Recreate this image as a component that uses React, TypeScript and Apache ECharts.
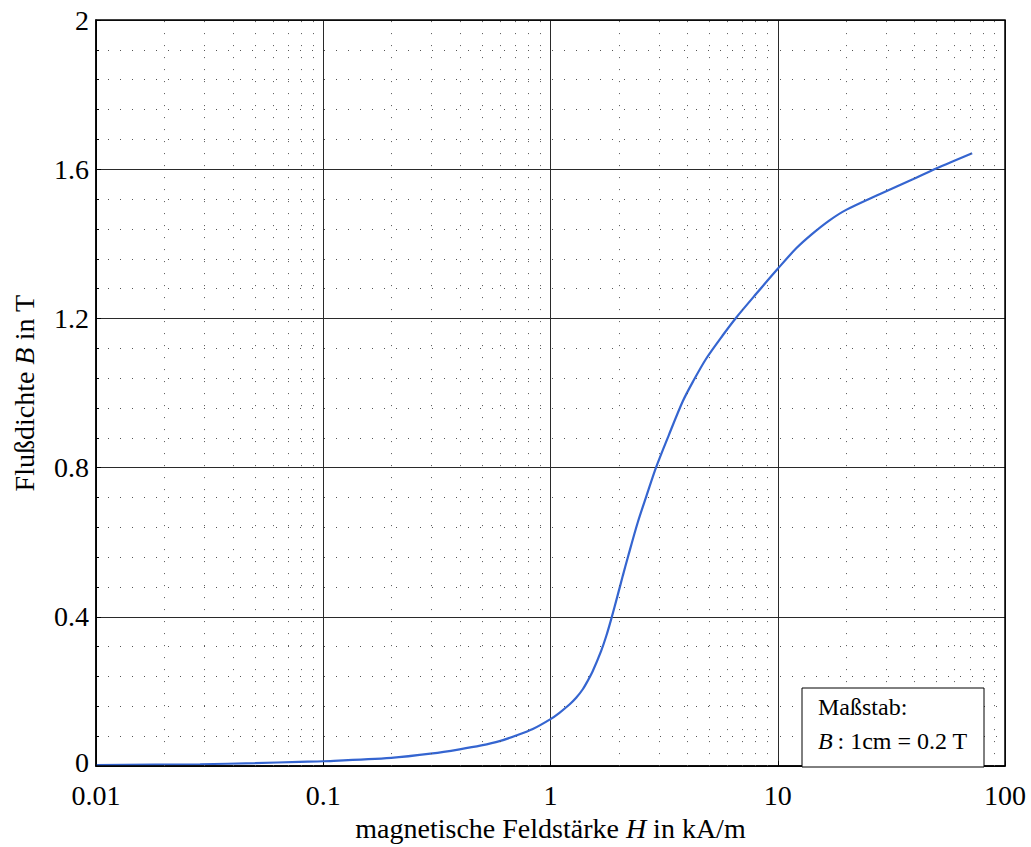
import React, { useEffect, useRef } from "react";
import * as echarts from "echarts";

// Field strength H in kA/m
const H = [
  0.01, 0.0287, 0.05, 0.0786, 0.1, 0.199, 0.303, 0.398, 0.496, 0.597, 0.706,
  0.836, 1.0, 1.095, 1.212, 1.297, 1.387, 1.459, 1.535, 1.671, 1.758, 1.85,
  1.977, 2.08, 2.19, 2.42, 2.64, 2.92, 3.32, 3.82, 4.23, 4.84, 5.73, 6.56,
  8.04, 10, 12.06, 14.27, 16.9, 20, 28.05, 39.3, 49.8, 71.7,
];
// Flux density B in T
const B = [
  0.003, 0.005, 0.008, 0.0114, 0.013, 0.022, 0.034, 0.045, 0.0555, 0.067,
  0.082, 0.0995, 0.126, 0.143, 0.165, 0.183, 0.206, 0.229, 0.255, 0.309, 0.348,
  0.394, 0.459, 0.51, 0.56, 0.653, 0.723, 0.802, 0.888, 0.978, 1.03, 1.092,
  1.155, 1.202, 1.266, 1.333, 1.388, 1.428, 1.463, 1.491, 1.533, 1.573, 1.602,
  1.643,
];

const decades = [0.01, 0.1, 1, 10];
const minorMultipliers = [2, 3, 4, 5, 6, 7, 8, 9];
const xMinorTicks = decades.flatMap((d) => minorMultipliers.map((m) => +(d * m).toPrecision(3)));

const xTickLabels = ["0.01", "0.1", "1", "10", "100"];
const yTickLabels = ["0", "0.4", "0.8", "1.2", "1.6", "2"];

const FONT = "'Liberation Serif', 'Times New Roman', serif";

export default function App() {
  const ref = useRef<HTMLDivElement>(null);
  useEffect(() => {
    document.body.style.margin = "0";
    const chart = echarts.init(ref.current!, null, { renderer: "svg" });
    const option: any = {
      animation: false,
      backgroundColor: "#ffffff",
      textStyle: { fontFamily: FONT },
      grid: {
        left: 96,
        right: 26,
        top: 20,
        bottom: 70,
        show: true,
        borderColor: "#000",
        borderWidth: 1.5,
        backgroundColor: "transparent",
        z: 5,
      },
      xAxis: {
        type: "log",
        logBase: 10,
        min: 0.01,
        max: 100,
        name: "magnetische Feldstärke {i|H} in kA/m",
        nameLocation: "middle",
        nameGap: 37,
        nameTextStyle: {
          fontFamily: FONT,
          fontSize: 28,
          color: "#000",
          rich: { i: { fontFamily: FONT, fontSize: 28, fontStyle: "italic", color: "#000" } },
        },
        axisLine: { show: true, lineStyle: { color: "#000", width: 1.5 } },
        axisTick: { show: true, inside: true, length: 5, lineStyle: { color: "#000" } },
        axisLabel: {
          fontFamily: FONT,
          fontSize: 28,
          lineHeight: 22,
          color: "#000",
          margin: 18,
          formatter: (v: number) => {
            const idx = Math.round(Math.log10(v)) + 2;
            return xTickLabels[idx] ?? String(v);
          },
        },
        splitLine: { show: true, lineStyle: { color: "#2a2a2a", width: 1, type: "solid" } },
      },
      yAxis: {
        type: "value",
        min: 0,
        max: 2,
        interval: 0.4,
        name: "Flußdichte {i|B} in T",
        nameLocation: "middle",
        nameGap: 58,
        nameRotate: 90,
        nameTextStyle: {
          fontFamily: FONT,
          fontSize: 28,
          color: "#000",
          rich: { i: { fontFamily: FONT, fontSize: 28, fontStyle: "italic", color: "#000" } },
        },
        axisLine: { show: true, lineStyle: { color: "#000", width: 1.5 } },
        axisTick: { show: true, inside: true, length: 5, lineStyle: { color: "#000" } },
        minorTick: { show: true, splitNumber: 5, length: 3, lineStyle: { color: "#000" } },
        axisLabel: {
          fontFamily: FONT,
          fontSize: 28,
          lineHeight: 22,
          color: "#000",
          margin: 7,
          formatter: (v: number) => {
            const s = yTickLabels[Math.round(v / 0.4)] ?? String(v);
            return v === 0 ? `{z|${s}}` : s;
          },
          rich: {
            z: {
              fontFamily: FONT,
              fontSize: 28,
              lineHeight: 22,
              color: "#000",
              padding: [0, 0, 7, 0],
            },
          },
        },
        splitLine: { show: true, lineStyle: { color: "#2a2a2a", width: 1, type: "solid" } },
        minorSplitLine: { show: true, lineStyle: { color: "#555", width: 1, type: [1, 11] } },
      },
      series: [
        {
          type: "line",
          data: [],
          z: 1,
          silent: true,
          markLine: {
            silent: true,
            symbol: "none",
            label: { show: false },
            lineStyle: { color: "#555", width: 1, type: [1, 11] },
            emphasis: { disabled: true },
            data: xMinorTicks.map((x) => ({ xAxis: x })),
          },
        },
        {
          type: "line",
          z: 3,
          data: H.map((h, i) => [h, B[i]]),
          showSymbol: false,
          smooth: 0.3,
          lineStyle: { color: "#3565d0", width: 2.2 },
          itemStyle: { color: "#3565d0" },
        },
      ],
      graphic: [
        {
          type: "rect",
          z: 10,
          shape: { x: 802, y: 688, width: 182, height: 79 },
          style: { fill: "#fff", stroke: "#000", lineWidth: 1 },
        },
        {
          type: "text",
          z: 11,
          x: 818,
          y: 707,
          style: {
            text: "Maßstab:",
            font: `24px ${FONT}`,
            fill: "#000",
            verticalAlign: "middle",
            align: "left",
          },
        },
        {
          type: "text",
          z: 11,
          x: 818,
          y: 741,
          style: {
            text: "{i|B}\u2009: 1cm = 0.2 T",
            font: `24px ${FONT}`,
            fill: "#000",
            verticalAlign: "middle",
            align: "left",
            rich: {
              i: { fontFamily: FONT, fontSize: 24, fontStyle: "italic", fill: "#000" },
            },
          },
        },
      ],
    };
    chart.setOption(option);
    return () => chart.dispose();
  }, []);
  return <div ref={ref} style={{ width: 1031, height: 847 }} />;
}
